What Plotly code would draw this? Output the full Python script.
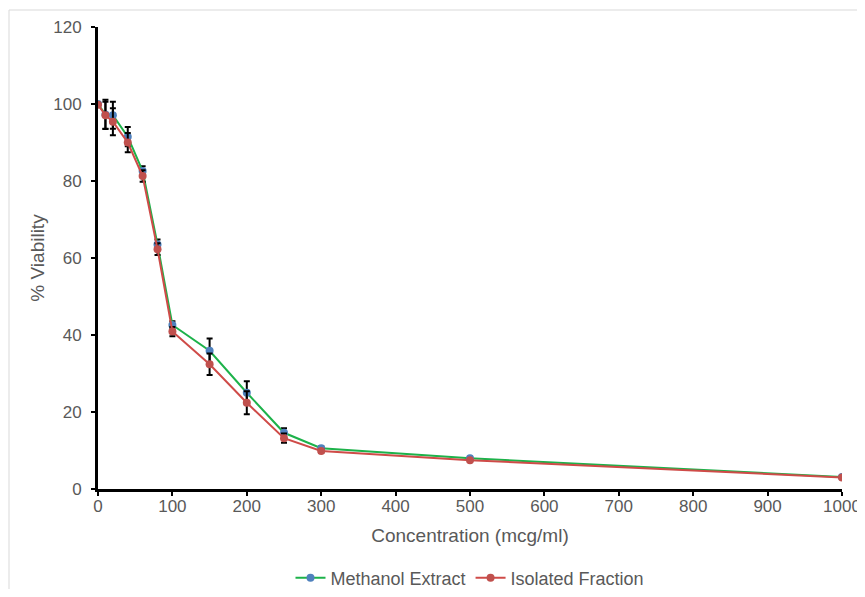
import plotly.graph_objects as go

concentration = [0, 10, 20, 40, 60, 80, 100, 150, 200, 250, 300, 500, 1000]
methanol_extract = [100, 97.3, 97.1, 91.5, 82.6, 63.5, 42.6, 35.9, 25.0, 14.6, 10.6, 8.0, 3.1]
methanol_err = [0, 3.8, 3.5, 2.5, 1.2, 1.3, 1.0, 3.2, 3.0, 1.2, 0.5, 0.3, 0.2]
isolated_fraction = [99.8, 97.1, 95.4, 90.0, 81.3, 62.3, 40.9, 32.4, 22.4, 13.2, 9.9, 7.5, 3.0]
isolated_err = [0, 3.5, 3.5, 2.5, 1.5, 1.5, 1.2, 2.8, 3.0, 1.2, 0.5, 0.3, 0.2]

x_ticks = list(range(0, 1001, 100))
y_ticks = list(range(0, 121, 20))

font_family = "Liberation Sans, Arial, sans-serif"
grey = "#595959"

fig = go.Figure()
fig.add_trace(go.Scatter(
    x=concentration, y=methanol_extract, name="Methanol Extract",
    mode="lines+markers",
    line=dict(color="#1db24a", width=2),
    marker=dict(color="#4f81bd", size=8),
    error_y=dict(type="data", array=methanol_err, color="black", thickness=2, width=3),
))
fig.add_trace(go.Scatter(
    x=concentration, y=isolated_fraction, name="Isolated Fraction",
    mode="lines+markers",
    line=dict(color="#cf4b48", width=2),
    marker=dict(color="#c0504d", size=8),
    error_y=dict(type="data", array=isolated_err, color="black", thickness=2, width=3),
))

fig.update_layout(
    width=857, height=581,
    margin=dict(l=90, r=23, t=19, b=100, autoexpand=False),
    paper_bgcolor="white", plot_bgcolor="white",
    font=dict(family=font_family, color=grey, size=16),
    showlegend=True,
    legend=dict(orientation="h", x=0.5, xanchor="center", y=-0.193, yanchor="middle",
                font=dict(size=18, color=grey), traceorder="normal"),
    shapes=[dict(type="rect", xref="paper", yref="paper",
                 x0=(9 - 98) / 744, x1=1.2, y0=-0.4, y1=(489 - 10) / 462,
                 line=dict(color="#d9d9d9", width=1), fillcolor="rgba(0,0,0,0)", layer="below")],
)
fig.update_xaxes(
    range=[0, 1000], tickvals=x_ticks, showgrid=False, zeroline=False, automargin=False,
    showline=True, linecolor="black", linewidth=3,
    ticks="outside", ticklen=4, tickwidth=2, tickcolor="black",
    tickfont=dict(size=17, color=grey), ticklabelstandoff=-4, ticklabeloverflow="allow",
    title=dict(text="Concentration (mcg/ml)", font=dict(size=19, color=grey), standoff=14),
)
fig.update_yaxes(
    range=[0, 120], tickvals=y_ticks, showgrid=False, zeroline=False, automargin=False,
    showline=True, linecolor="black", linewidth=3,
    ticks="outside", ticklen=4, tickwidth=2, tickcolor="black",
    tickfont=dict(size=17, color=grey), ticklabelstandoff=6,
    title=dict(text="% Viability", font=dict(size=19, color=grey), standoff=4),
)

fig.write_html("out.html")
